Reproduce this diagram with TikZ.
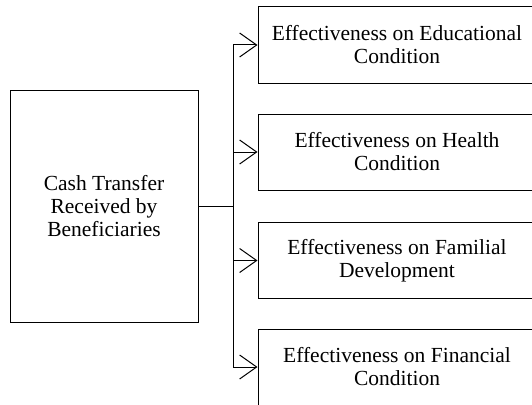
\documentclass[tikz,border=0pt]{standalone}
\usepackage{fontspec}
\newfontfamily\tnr{Liberation Serif}
\usetikzlibrary{arrows.meta}
\begin{document}
\begin{tikzpicture}[x=1pt,y=-1pt,
  box/.style={draw, line width=1pt, align=center, inner sep=0pt,
    font=\tnr\fontsize{21.5}{23}\selectfont},
  srcbox/.style={box, minimum width=188pt, minimum height=232pt},
  effbox/.style={box, minimum width=278pt, minimum height=76pt},
  link/.style={line width=1pt},
  arr/.style={line width=1pt, -{Straight Barb[length=17pt,width=24pt,line width=1pt]}}]
\useasboundingbox (0,0) rectangle (532,404);
\clip (0,0) rectangle (532,404);
\node[srcbox] (src) at (104,206) {Cash Transfer\\Received by\\Beneficiaries};
\node[effbox] (e1) at (397,45) {Effectiveness on Educational\\Condition};
\node[effbox] (e2) at (397,152) {Effectiveness on Health\\Condition};
\node[effbox] (e3) at (397,260.5) {Effectiveness on Familial\\Development};
\node[effbox] (e4) at (397,367) {Effectiveness on Financial\\Condition};
\coordinate (trunk) at (233,206);
\draw[link] (src.east) -- (src.east -| trunk);
\draw[link] (trunk |- e1.west) -- (trunk |- e4.west);
\foreach \n in {e1,e2,e3,e4}
  \draw[arr] (trunk |- \n.west) -- (\n.west);
\end{tikzpicture}
\end{document}
